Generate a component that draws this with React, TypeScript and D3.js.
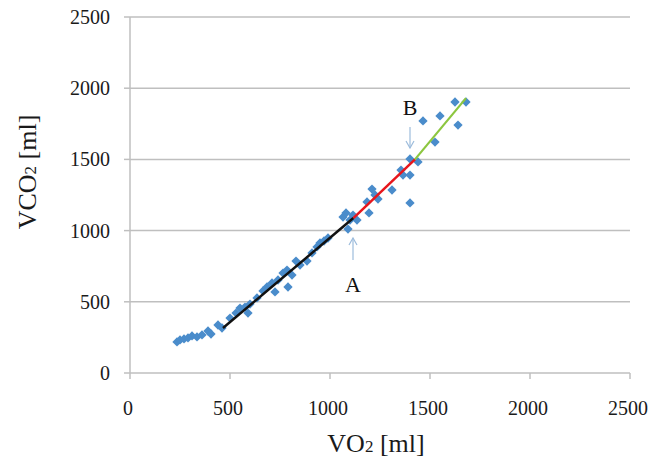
import React from "react";
import * as d3 from "d3";

const vo2 = [235, 250, 270, 290, 310, 335, 360, 390, 405, 440, 460, 500, 530, 550, 575, 590, 600, 635, 665, 685, 710, 725, 740, 765, 785, 790, 810, 830, 850, 885, 910, 935, 950, 970, 990, 1065, 1080, 1090, 1100, 1115, 1135, 1185, 1195, 1210, 1225, 1240, 1310, 1355, 1365, 1400, 1400, 1440, 1400, 1465, 1550, 1525, 1640, 1625, 1680];
const vco2 = [218, 232, 239, 246, 260, 253, 267, 295, 274, 337, 316, 386, 421, 456, 463, 421, 484, 527, 576, 604, 632, 569, 653, 702, 723, 604, 688, 786, 758, 786, 843, 885, 913, 927, 948, 1095, 1124, 1011, 1074, 1109, 1074, 1201, 1124, 1292, 1250, 1222, 1285, 1425, 1390, 1390, 1503, 1482, 1194, 1770, 1805, 1622, 1741, 1903, 1903];

const xTicks = [0, 500, 1000, 1500, 2000, 2500];
const yTicks = [0, 500, 1000, 1500, 2000, 2500];

const segBlackX = [465, 1117];
const segBlackY = [316, 1088];
const segRedX = [1117, 1425];
const segRedY = [1088, 1500];
const segGreenX = [1425, 1680];
const segGreenY = [1500, 1930];

const markerA = { label: "A", vo2: 1115, tip: 948, tail: 793, text: 618 };
const markerB = { label: "B", vo2: 1400, tip: 1580, tail: 1728, text: 1860 };

export default function App() {
  const W = 663, H = 466;
  const x = d3.scaleLinear().domain([0, 2500]).range([130, 630]);
  const y = d3.scaleLinear().domain([0, 2500]).range([373, 17]);
  const font = "'Liberation Serif', 'Times New Roman', serif";
  const grid = "#bfbfbf";
  const ptColor = "#4a8ccb";
  const arrowColor = "#9dbcdc";
  const line = d3.line<[number, number]>().x(d => x(d[0])).y(d => y(d[1]));
  const seg = (xs: number[], ys: number[]) => line(xs.map((v, i) => [v, ys[i]] as [number, number])) || "";
  const diamond = d3.symbol().type(d3.symbolDiamond2).size(55)() || "";

  const arrow = (m: typeof markerA) => {
    const ax = x(m.vo2);
    const tipY = y(m.tip);
    const tailY = y(m.tail);
    const dir = tailY > tipY ? 1 : -1;
    return (
      <g key={m.label}>
        <line x1={ax} x2={ax} y1={tailY} y2={tipY} stroke={arrowColor} strokeWidth={1.2} />
        <path d={`M${ax - 4},${tipY + dir * 7} L${ax},${tipY} L${ax + 4},${tipY + dir * 7}`} fill="none" stroke={arrowColor} strokeWidth={1.2} />
        <text x={ax} y={y(m.text) + 7} textAnchor="middle" fontFamily={font} fontSize={22} fill="#111">{m.label}</text>
      </g>
    );
  };

  return (
    <svg width={W} height={H} style={{ position: "absolute", left: 0, top: 0, background: "#fff" }}>
      {yTicks.map(t => (
        <g key={"gy" + t}>
          {t > 0 && <line x1={x(0)} x2={x(2500)} y1={y(t)} y2={y(t)} stroke={grid} strokeWidth={1.5} />}
          <line x1={x(0) - 6} x2={x(0)} y1={y(t)} y2={y(t)} stroke={grid} strokeWidth={1.5} />
          <text x={110} y={y(t) + 7} textAnchor="end" fontFamily={font} fontSize={20} fill="#1a1a1a">{t}</text>
        </g>
      ))}
      <line x1={x(0)} x2={x(0)} y1={y(0)} y2={y(2500)} stroke={grid} strokeWidth={1.5} />
      <line x1={x(0)} x2={x(2500)} y1={y(0)} y2={y(0)} stroke={grid} strokeWidth={1.5} />
      {xTicks.map(t => (
        <g key={"gx" + t}>
          <line x1={x(t)} x2={x(t)} y1={y(0)} y2={y(0) + 6} stroke={grid} strokeWidth={1.5} />
          <text x={x(t) - 2} y={415} textAnchor="middle" fontFamily={font} fontSize={20} fill="#1a1a1a">{t}</text>
        </g>
      ))}
      {vo2.map((v, i) => (
        <path key={"p" + i} d={diamond} transform={`translate(${x(v)},${y(vco2[i])})`} fill={ptColor} />
      ))}
      <path d={seg(segBlackX, segBlackY)} stroke="#111" strokeWidth={2.5} fill="none" />
      <path d={seg(segRedX, segRedY)} stroke="#e8161c" strokeWidth={2.5} fill="none" />
      <path d={seg(segGreenX, segGreenY)} stroke="#8cc63f" strokeWidth={2.2} fill="none" />
      {arrow(markerA)}
      {arrow(markerB)}
      <text x={376} y={452} textAnchor="middle" fontFamily={font} fontSize={26} fill="#1a1a1a">
        VO<tspan fontSize={17}>2</tspan> [ml]
      </text>
      <text transform={`translate(36,172) rotate(-90)`} textAnchor="middle" fontFamily={font} fontSize={26} fill="#1a1a1a">
        VCO<tspan fontSize={17}>2</tspan> [ml]
      </text>
    </svg>
  );
}
